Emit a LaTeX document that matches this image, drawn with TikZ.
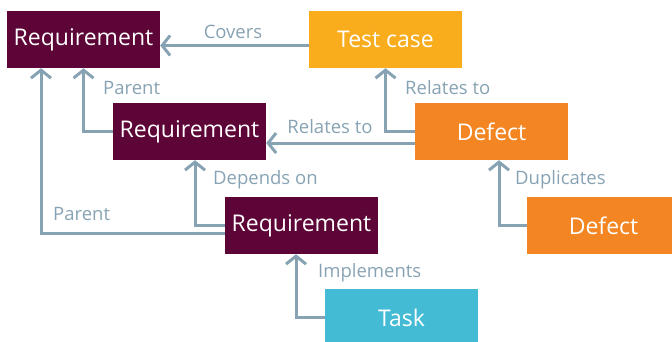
\documentclass[tikz,border=0pt]{standalone}
\usepackage{fontspec}
\setmainfont{Open Sans}
\usetikzlibrary{arrows.meta}
\definecolor{mmaroon}{HTML}{5E0538}
\definecolor{myellow}{HTML}{F9AC1C}
\definecolor{morange}{HTML}{F38623}
\definecolor{mcyan}{HTML}{43BBD4}
\definecolor{mgrey}{HTML}{87A3B3}
\tikzset{box/.style = {minimum width=153pt, minimum height=57pt, inner sep=0,
                       text=white, font=\fontsize{23}{25}\selectfont}}
\tikzset{conn/.style = {draw=mgrey, line width=3pt,
                        -{Straight Barb[length=8pt, width=20pt]}}}
\tikzset{lbl/.style = {text=mgrey, font=\fontsize{18.5}{20}\selectfont,
                       anchor=west, inner sep=0}}

\begin{document}
\begin{tikzpicture}[x=1pt, y=-1pt]
    \useasboundingbox (0, 0) rectangle (672, 341);

    \node (req1) at (83.5, 39.5) [box, fill=mmaroon] {Requirement};
    \node (tc) at (385.5, 39.5) [box, fill=myellow] {Test case};
    \node (req2) at (189.5, 131.5) [box, fill=mmaroon] {Requirement};
    \node (def1) at (491.5, 131.5) [box, fill=morange] {Defect};
    \node (req3) at (301.5, 225.5) [box, fill=mmaroon] {Requirement};
    \node (def2) at (603.5, 225.5) [box, fill=morange] {Defect};
    \node (task) at (401.5, 317.5) [box, fill=mcyan] {Task};

    \draw [conn] ([yshift=-6pt]tc.west) -- ([yshift=-6pt]req1.east);
    \draw [conn] (req2.west) -| (req1.south);
    \draw [conn] ([yshift=-11.5pt]def1.west) -- ([yshift=-11.5pt]req2.east);
    \draw [conn] (def1.west) -| (tc.south);
    \draw [conn] (req3.west) -| ([xshift=5.5pt]req2.south);
    \draw [conn] ([yshift=-7.5pt]req3.west) -| ([xshift=-42.5pt]req1.south);
    \draw [conn] (def2.west) -| ([xshift=7.5pt]def1.south);
    \draw [conn] (task.west) -| ([xshift=-5.5pt]req3.south);

    \node (lcovers) at (233, 32) [lbl, anchor=center] {Covers};
    \node (lparent1) at (103, 88) [lbl] {Parent};
    \node (lrelates1) at (405, 88) [lbl] {Relates to};
    \node (lrelates2) at (330, 127) [lbl, anchor=center] {Relates to};
    \node (ldepends) at (213, 180) [lbl] {Depends on};
    \node (lparent2) at (53, 214) [lbl] {Parent};
    \node (ldupl) at (515, 180) [lbl] {Duplicates};
    \node (limpl) at (318, 273) [lbl] {Implements};
\end{tikzpicture}
\end{document}
